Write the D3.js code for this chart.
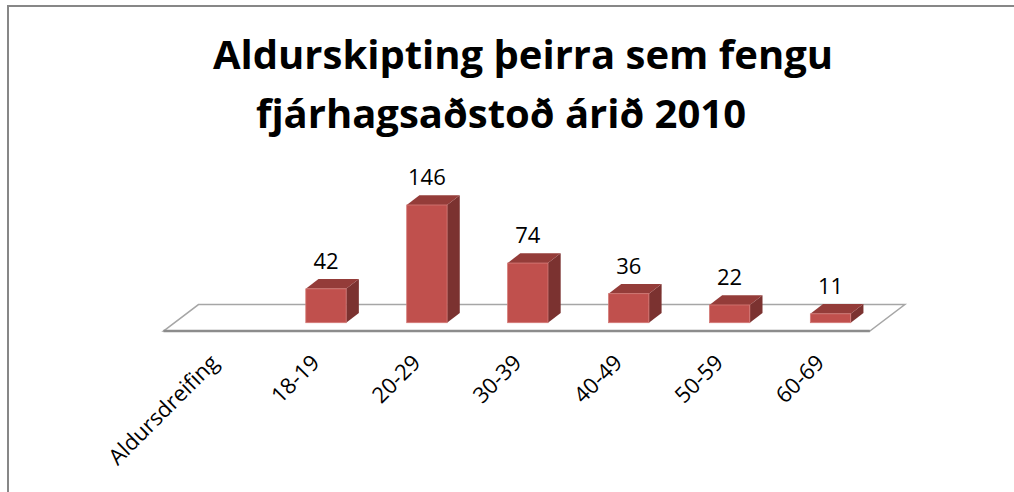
<!DOCTYPE html>
<html>
<head>
<meta charset="utf-8">
<script src="https://cdn.jsdelivr.net/npm/d3@7"></script>
<style>
  body { margin: 0; background: #fff; }
  svg { display: block; font-family: "Open Sans", Lato, sans-serif; }
</style>
</head>
<body>
<svg id="chart" width="1014" height="492"></svg>
<script>
// data
const categories = ["Aldursdreifing", "18-19", "20-29", "30-39", "40-49", "50-59", "60-69"];
const values = [null, 42, 146, 74, 36, 22, 11];
const titleLines = ["Aldurskipting þeirra sem fengu", "fjárhagsaðstoð árið 2010"];

const svg = d3.select("svg#chart");

// outer chart frame, runs past the right and bottom edge
svg.append("rect")
	.attr("x", 8).attr("y", 6)
	.attr("width", 1100).attr("height", 600)
	.attr("fill", "#fff")
	.attr("stroke", "#878787")
	.attr("stroke-width", 2);

const base = 322.7; // bottom of the bar front plane
const x = d3.scaleBand()
	.domain(categories)
	.range([174.6, 881])
	.paddingInner(0.6)
	.paddingOuter(0.3);
const y = d3.scaleLinear().domain([0, 160]).range([base, base - 129]);

// oblique depth of a bar and of the floor
const bar_dx = 12.7, bar_dy = -9.8;
const floor_dx = 35, floor_dy = -26.5;

/*
 * floor plane, the bars stand in the middle of its depth
 */
const off_x = (floor_dx - bar_dx) / 2;
const off_y = (floor_dy - bar_dy) / 2;
const [r0, r1] = x.range();
const fl = [r0 - off_x, base - off_y];
const fr = [r1 - off_x, base - off_y];
const floor = [
	fl,
	[fl[0] + floor_dx, fl[1] + floor_dy],
	[fr[0] + floor_dx, fr[1] + floor_dy],
	fr,
];
svg.append("polygon")
	.attr("points", floor.map((p) => p.join(",")).join(" "))
	.attr("fill", "#fff")
	.attr("stroke", "#a6a6a6")
	.attr("stroke-width", 1.5);
svg.append("line")
	.attr("x1", fl[0]).attr("y1", fl[1])
	.attr("x2", fr[0]).attr("y2", fr[1])
	.attr("stroke", "#8c8c8c")
	.attr("stroke-width", 2.5);

// bars
const data = categories
	.map((c, i) => ({ cat: c, val: values[i] }))
	.filter((d) => d.val != null);
const bw = x.bandwidth();

const bars = svg.selectAll("g.bar")
	.data(data)
	.join("g")
	.classed("bar", true);

bars.append("polygon")
	.attr("points", (d) => {
		let x0 = x(d.cat), yv = y(d.val);
		return [
			[x0 + bw, yv], [x0 + bw + bar_dx, yv + bar_dy],
			[x0 + bw + bar_dx, base + bar_dy], [x0 + bw, base],
		].map((p) => p.join(",")).join(" ");
	})
	.attr("fill", "#7b3230");
bars.append("polygon")
	.attr("points", (d) => {
		let x0 = x(d.cat), yv = y(d.val);
		return [
			[x0, yv], [x0 + bar_dx, yv + bar_dy],
			[x0 + bw + bar_dx, yv + bar_dy], [x0 + bw, yv],
		].map((p) => p.join(",")).join(" ");
	})
	.attr("fill", "#943c39");
bars.append("rect")
	.attr("x", (d) => x(d.cat))
	.attr("y", (d) => y(d.val))
	.attr("width", bw)
	.attr("height", (d) => base - y(d.val))
	.attr("fill", "#c0504d")
	.attr("stroke", "#d47a77")
	.attr("stroke-width", 0.8);

// value labels
bars.append("text")
	.text((d) => d.val)
	.attr("x", (d) => x(d.cat) + bw / 2)
	.attr("y", (d) => y(d.val) + bar_dy - 10)
	.attr("text-anchor", "middle")
	.attr("font-size", 22)
	.attr("fill", "#000");

// rotated category labels
svg.selectAll("text.cat-label")
	.data(categories)
	.join("text")
	.classed("cat-label", true)
	.text((d) => d)
	.attr("text-anchor", "end")
	.attr("font-size", 22)
	.attr("fill", "#000")
	.attr("transform", (d) => `translate(${x(d) + bw / 2 - 5}, 364) rotate(-45)`);

// title, two centred lines
const titleX = [523, 501];
const titleY = [69, 128];
svg.selectAll("text.title")
	.data(titleLines)
	.join("text")
	.classed("title", true)
	.text((d) => d)
	.attr("x", (d, i) => titleX[i])
	.attr("y", (d, i) => titleY[i])
	.attr("text-anchor", "middle")
	.attr("font-weight", "bold")
	.attr("font-size", 40)
	.attr("fill", "#000");
</script>
</body>
</html>
